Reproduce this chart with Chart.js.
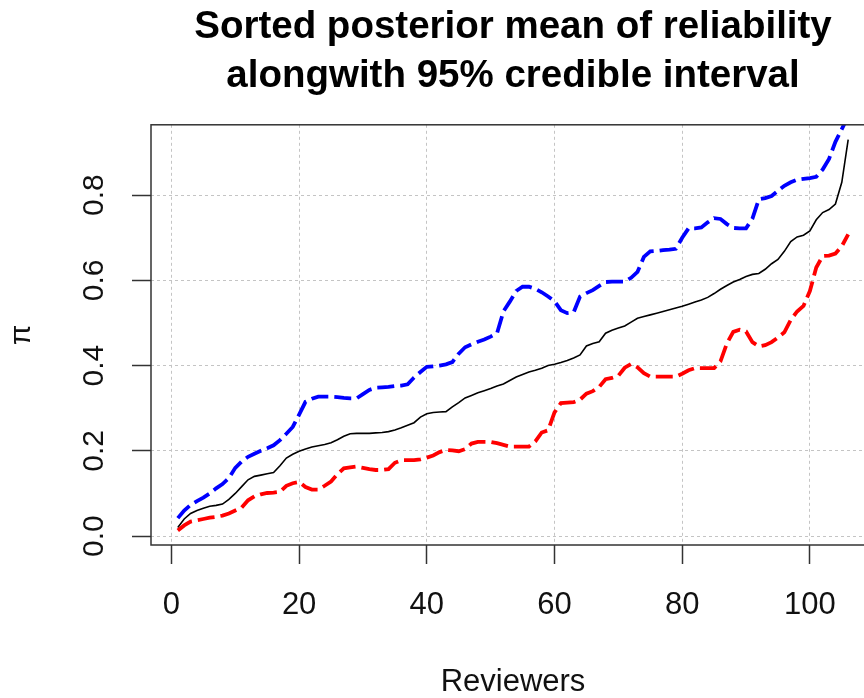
<!DOCTYPE html>
<html lang="en">
<head>
  <meta charset="UTF-8">
  <title>Sorted posterior mean of reliability</title>
  <script src="https://cdn.jsdelivr.net/npm/chart.js"></script>
  <style>
    html, body {
      margin: 0;
      padding: 0;
      background: #fff;
      overflow: hidden;
      width: 864px;
      height: 698px;
    }
    #wrap {
      position: absolute;
      left: 0;
      top: 0;
      width: 900px;
      height: 698px;
    }
  </style>
</head>
<body>
<div id="wrap">
  <canvas id="relChart" width="900" height="698"></canvas>
</div>

<script>
  // posterior mean of reliability per reviewer, sorted ascending
  const meanPi = [
    0.020, 0.040, 0.053, 0.060, 0.065, 0.070, 0.072, 0.075, 0.086, 0.100,
    0.116, 0.132, 0.140, 0.143, 0.146, 0.149, 0.165, 0.183, 0.192, 0.199,
    0.204, 0.209, 0.212, 0.215, 0.219, 0.226, 0.234, 0.240, 0.241, 0.241,
    0.241, 0.242, 0.243, 0.245, 0.249, 0.254, 0.260, 0.266, 0.279, 0.287,
    0.290, 0.291, 0.292, 0.303, 0.313, 0.324, 0.330, 0.336, 0.341, 0.346,
    0.352, 0.357, 0.365, 0.373, 0.379, 0.385, 0.389, 0.394, 0.400, 0.403,
    0.407, 0.412, 0.418, 0.425, 0.446, 0.452, 0.456, 0.476, 0.483, 0.488,
    0.493, 0.502, 0.511, 0.515, 0.519, 0.523, 0.527, 0.531, 0.535, 0.539,
    0.544, 0.549, 0.554, 0.560, 0.569, 0.579, 0.588, 0.596, 0.602, 0.609,
    0.614, 0.616, 0.626, 0.639, 0.649, 0.668, 0.691, 0.702, 0.706, 0.716,
    0.742, 0.759, 0.766, 0.779, 0.830, 0.930
  ];

  // upper bound of the 95% credible interval
  const upperPi = [
    0.042, 0.060, 0.073, 0.082, 0.090, 0.100, 0.112, 0.122, 0.136, 0.160,
    0.175, 0.186, 0.193, 0.200, 0.206, 0.213, 0.225, 0.240, 0.256, 0.285,
    0.315, 0.322, 0.327, 0.327, 0.327, 0.326, 0.324, 0.323, 0.323, 0.333,
    0.343, 0.348, 0.349, 0.350, 0.352, 0.353, 0.356, 0.372, 0.385, 0.397,
    0.398, 0.400, 0.403, 0.408, 0.428, 0.443, 0.450, 0.456, 0.461, 0.468,
    0.476, 0.527, 0.550, 0.575, 0.585, 0.585, 0.580, 0.572, 0.562, 0.551,
    0.530, 0.523, 0.525, 0.562, 0.570, 0.577, 0.587, 0.596, 0.597, 0.597,
    0.597, 0.606, 0.620, 0.655, 0.668, 0.669, 0.671, 0.672, 0.674, 0.700,
    0.722, 0.722, 0.724, 0.736, 0.746, 0.744, 0.732, 0.723, 0.722, 0.722,
    0.745, 0.790, 0.793, 0.798, 0.810, 0.822, 0.830, 0.836, 0.838, 0.840,
    0.843, 0.860, 0.885, 0.925, 0.955, 0.985
  ];

  // lower bound of the 95% credible interval
  const lowerPi = [
    0.013, 0.025, 0.034, 0.037, 0.040, 0.043, 0.045, 0.048, 0.053, 0.060,
    0.067, 0.084, 0.093, 0.098, 0.101, 0.102, 0.104, 0.118, 0.124, 0.127,
    0.115, 0.109, 0.109, 0.118, 0.128, 0.145, 0.159, 0.161, 0.163, 0.160,
    0.157, 0.155, 0.155, 0.157, 0.172, 0.178, 0.178, 0.178, 0.180, 0.184,
    0.189, 0.197, 0.202, 0.201, 0.199, 0.204, 0.217, 0.221, 0.221, 0.221,
    0.218, 0.214, 0.210, 0.210, 0.210, 0.210, 0.222, 0.243, 0.248, 0.290,
    0.312, 0.313, 0.314, 0.320, 0.334, 0.340, 0.350, 0.368, 0.371, 0.376,
    0.395, 0.404, 0.396, 0.382, 0.374, 0.374, 0.374, 0.374, 0.374, 0.381,
    0.389, 0.394, 0.394, 0.394, 0.394, 0.410, 0.452, 0.479, 0.484, 0.480,
    0.455, 0.445, 0.448, 0.455, 0.466, 0.478, 0.507, 0.527, 0.540, 0.575,
    0.630, 0.657, 0.658, 0.663, 0.680, 0.708
  ];

  // reviewer rank on the x axis
  const reviewers = meanPi.map((_, i) => i + 1);

  const xTicks = [0, 20, 40, 60, 80, 100];
  const yTicks = [0, 0.2, 0.4, 0.6, 0.8];

  const titleLines = ['Sorted posterior mean of reliability', 'alongwith 95% credible interval'];
  const xTitle = 'Reviewers';
  const yTitle = 'π';

  const FONT = "'Liberation Sans', Arial, sans-serif";
  const AXIS_COL = '#333';
  const GRID_COL = '#c4c4c4';

  const toPoints = vals => vals.map((v, i) => ({ x: reviewers[i], y: v }));

  // frame around the plot region, like box() in R
  const boxPlugin = {
    id: 'plotBox',
    afterDatasetsDraw(chart) {
      const { ctx, chartArea: a } = chart;
      ctx.save();
      ctx.strokeStyle = AXIS_COL;
      ctx.lineWidth = 1.5;
      ctx.strokeRect(a.left, a.top, a.right - a.left, a.bottom - a.top);
      ctx.restore();
    }
  };

  new Chart(document.getElementById('relChart'), {
    type: 'line',
    data: {
      datasets: [
        {
          label: 'mean',
          data: toPoints(meanPi),
          borderColor: '#000',
          borderWidth: 1.6,
          pointRadius: 0,
          tension: 0,
          order: 2
        },
        {
          label: 'upper',
          data: toPoints(upperPi),
          borderColor: '#0000ff',
          borderWidth: 3.8,
          borderDash: [17, 6],
          pointRadius: 0,
          tension: 0,
          order: 1
        },
        {
          label: 'lower',
          data: toPoints(lowerPi),
          borderColor: '#ff0000',
          borderWidth: 3.8,
          borderDash: [17, 6],
          pointRadius: 0,
          tension: 0,
          order: 1
        }
      ]
    },
    options: {
      responsive: false,
      animation: false,
      layout: { padding: { top: 0, right: 25, left: 0, bottom: 0 } },
      plugins: {
        legend: { display: false },
        tooltip: { enabled: false },
        title: {
          display: true,
          text: titleLines,
          fullSize: false,
          color: '#000',
          font: { family: FONT, size: 38.5, weight: 'bold', lineHeight: 1.27 },
          padding: { top: 3, bottom: 24 }
        }
      },
      scales: {
        x: {
          type: 'linear',
          min: -3.2,
          max: 110.2,
          afterBuildTicks: s => { s.ticks = xTicks.map(v => ({ value: v })); },
          afterFit: s => { s.height = 153; },
          grid: {
            color: GRID_COL,
            lineWidth: 1,
            tickLength: 19,
            tickColor: AXIS_COL,
            tickWidth: 1.5,
            tickBorderDash: []
          },
          border: { display: false, dash: [3, 3] },
          ticks: {
            color: '#111',
            font: { family: FONT, size: 31, lineHeight: 1.2 },
            padding: 23,
            maxRotation: 0
          },
          title: {
            display: true,
            text: xTitle,
            color: '#111',
            font: { family: FONT, size: 31, lineHeight: 1 },
            padding: { top: 0, bottom: 0 }
          }
        },
        y: {
          type: 'linear',
          min: -0.021,
          max: 0.965,
          afterBuildTicks: s => { s.ticks = yTicks.map(v => ({ value: v })); },
          afterFit: s => { s.width = 151; },
          grid: {
            color: GRID_COL,
            lineWidth: 1,
            tickLength: 19,
            tickColor: AXIS_COL,
            tickWidth: 1.5,
            tickBorderDash: []
          },
          border: { display: false, dash: [3, 3] },
          ticks: {
            color: '#111',
            font: { family: FONT, size: 30, lineHeight: 1.2 },
            padding: 16,
            minRotation: 90,
            maxRotation: 90,
            crossAlign: 'center',
            callback: v => v.toFixed(1)
          },
          title: {
            display: true,
            text: yTitle,
            color: '#111',
            font: { family: FONT, size: 30, lineHeight: 1.2 },
            padding: { top: 4, bottom: 0 }
          }
        }
      }
    },
    plugins: [boxPlugin]
  });
</script>
</body>
</html>
